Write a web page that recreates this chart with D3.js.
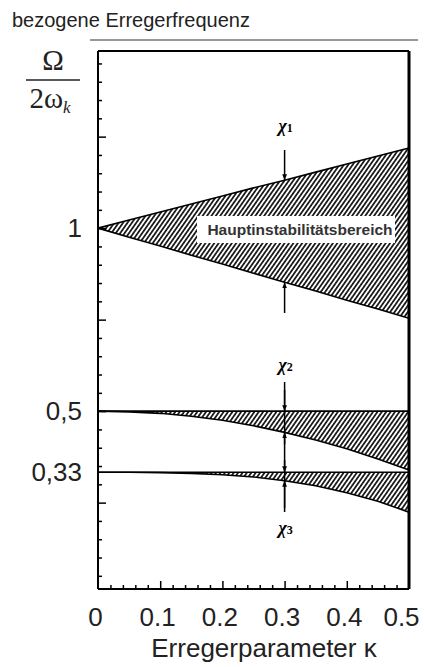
<!DOCTYPE html>
<html>
<head>
<meta charset="utf-8">
<script src="https://cdn.jsdelivr.net/npm/d3@7"></script>
<style>
  html, body { margin: 0; padding: 0; background: #fff; }
  svg { display: block; }
</style>
</head>
<body>
<script>
// ---------- data ----------
const kappa        = [0, 0.05, 0.1, 0.15, 0.2, 0.25, 0.3, 0.35, 0.4, 0.45, 0.5];
const mainUpper    = [1.000, 1.022, 1.044, 1.066, 1.088, 1.110, 1.131, 1.153, 1.175, 1.197, 1.219];
const mainLower    = [1.000, 0.975, 0.951, 0.926, 0.902, 0.877, 0.852, 0.828, 0.803, 0.779, 0.754];
const secondUpper  = [0.500, 0.500, 0.500, 0.500, 0.500, 0.500, 0.500, 0.500, 0.500, 0.500, 0.500];
const secondLower  = [0.500, 0.498, 0.494, 0.486, 0.475, 0.460, 0.442, 0.421, 0.397, 0.369, 0.339];
const thirdUpper   = [0.333, 0.333, 0.333, 0.333, 0.333, 0.333, 0.333, 0.333, 0.333, 0.333, 0.333];
const thirdLower   = [0.333, 0.333, 0.332, 0.330, 0.326, 0.320, 0.310, 0.296, 0.277, 0.254, 0.224];

const xTickValues  = [0, 0.1, 0.2, 0.3, 0.4, 0.5];
const xTickLabels  = ["0", "0.1", "0.2", "0.3", "0.4", "0.5"];
const yTickValues  = [1, 0.5, 0.333];
const yTickLabels  = ["1", "0,5", "0,33"];
const markKappa    = 0.3;
const chiLabels    = ["1", "2", "3"];

const xDomain = [0, 0.5];
const yDomain = [0.014, 1.484];

// ---------- layout ----------
const W = 424, H = 667;
const pL = 98, pR = 409, pT = 51, pB = 589;

const svg = d3.select("body").append("svg").attr("width", W).attr("height", H);

const x = d3.scaleLinear().domain(xDomain).range([pL, pR]);
const y = d3.scaleLinear().domain(yDomain).range([pB, pT]);

// hatch pattern
const defs = svg.append("defs");
defs.append("pattern")
  .attr("id", "hatch")
  .attr("patternUnits", "userSpaceOnUse")
  .attr("width", 3.6).attr("height", 10)
  .attr("patternTransform", "rotate(35)")
  .append("line")
  .attr("x1", 1.8).attr("y1", -1).attr("x2", 1.8).attr("y2", 11)
  .attr("stroke", "#000").attr("stroke-width", 1.6);

defs.append("marker")
  .attr("id", "arrow")
  .attr("viewBox", "0 0 10 10")
  .attr("refX", 10).attr("refY", 5)
  .attr("markerWidth", 6).attr("markerHeight", 6)
  .attr("markerUnits", "userSpaceOnUse")
  .attr("orient", "auto")
  .append("path").attr("d", "M0,1 L10,5 L0,9 Z").attr("fill", "#000");

// title & header rule
svg.append("text")
  .attr("x", 12).attr("y", 27)
  .attr("font-family", "Liberation Sans, Arial, sans-serif")
  .attr("font-size", 20).attr("fill", "#222")
  .text("bezogene Erregerfrequenz");
svg.append("line")
  .attr("x1", 90).attr("x2", 418).attr("y1", 40).attr("y2", 40)
  .attr("stroke", "#333").attr("stroke-width", 1.2);

// y label fraction
const frac = svg.append("g").attr("font-family", "Liberation Serif, Times New Roman, serif").attr("fill", "#222");
frac.append("text").attr("x", 53).attr("y", 70).attr("text-anchor", "middle").attr("font-size", 29).text("Ω");
frac.append("line").attr("x1", 26).attr("x2", 80).attr("y1", 80).attr("y2", 80).attr("stroke", "#222").attr("stroke-width", 1.5);
const den = frac.append("text").attr("x", 50).attr("y", 108).attr("text-anchor", "middle").attr("font-size", 29);
den.append("tspan").text("2ω");
den.append("tspan").attr("font-size", 17).attr("font-style", "italic").attr("dy", 5).text("k");

// areas
const pts = (lo, hi) => kappa.map((k, i) => ({ k, lo: lo[i], hi: hi[i] }));
const area = d3.area().x(d => x(d.k)).y0(d => y(d.lo)).y1(d => y(d.hi));
const line = d3.line().x(d => x(d.k)).y(d => y(d.v));

const regions = [
  pts(mainLower, mainUpper),
  pts(secondLower, secondUpper),
  pts(thirdLower, thirdUpper)
];
regions.forEach(r => {
  svg.append("path").datum(r).attr("d", area).attr("fill", "url(#hatch)").attr("stroke", "none");
  svg.append("path").datum(r.map(d => ({ k: d.k, v: d.lo }))).attr("d", line)
    .attr("fill", "none").attr("stroke", "#000").attr("stroke-width", 1.6);
  svg.append("path").datum(r.map(d => ({ k: d.k, v: d.hi }))).attr("d", line)
    .attr("fill", "none").attr("stroke", "#000").attr("stroke-width", 1.6);
});

// label box
svg.append("rect").attr("x", 197).attr("y", 216).attr("width", 198).attr("height", 27).attr("fill", "#fff");
svg.append("text")
  .attr("x", 300).attr("y", 235).attr("text-anchor", "middle")
  .attr("font-family", "Liberation Sans, Arial, sans-serif")
  .attr("font-weight", "bold").attr("font-size", 15.5).attr("fill", "#333")
  .text("Hauptinstabilitätsbereich");

// frame
const frame = svg.append("g").attr("stroke", "#000").attr("fill", "none");
frame.append("line").attr("x1", pL).attr("x2", pL).attr("y1", pT).attr("y2", pB).attr("stroke-width", 2);
frame.append("line").attr("x1", pL).attr("x2", pR).attr("y1", pT).attr("y2", pT).attr("stroke-width", 2);
frame.append("line").attr("x1", pR).attr("x2", pR).attr("y1", pT).attr("y2", pB).attr("stroke-width", 3);
frame.append("line").attr("x1", pL).attr("x2", pR).attr("y1", pB).attr("y2", pB).attr("stroke-width", 2);

// inward ticks
const xMinor = d3.range(0.02, 0.5, 0.02).filter(v => Math.abs(v * 10 - Math.round(v * 10)) > 1e-6);
const xMajor = [0.1, 0.2, 0.3, 0.4];
svg.append("g").attr("transform", `translate(0,${pB})`)
  .call(d3.axisTop(x).tickValues(xMinor).tickSize(4).tickFormat(""))
  .call(g => g.select(".domain").remove())
  .call(g => g.selectAll("line").attr("stroke-width", 1.5));
svg.append("g").attr("transform", `translate(0,${pB})`)
  .call(d3.axisTop(x).tickValues(xMajor).tickSize(8).tickFormat(""))
  .call(g => g.select(".domain").remove())
  .call(g => g.selectAll("line").attr("stroke-width", 1.5));

const yMinor = d3.range(0.05, 1.5, 0.05).filter(v => Math.abs(v * 4 - Math.round(v * 4)) > 1e-6);
const yMajor = [0.25, 0.5, 0.75, 1.0, 1.25];
svg.append("g").attr("transform", `translate(${pL},0)`)
  .call(d3.axisRight(y).tickValues(yMinor).tickSize(4).tickFormat(""))
  .call(g => g.select(".domain").remove())
  .call(g => g.selectAll("line").attr("stroke-width", 1.5));
svg.append("g").attr("transform", `translate(${pL},0)`)
  .call(d3.axisRight(y).tickValues(yMajor).tickSize(8).tickFormat(""))
  .call(g => g.select(".domain").remove())
  .call(g => g.selectAll("line").attr("stroke-width", 1.5));

// tick labels (outside)
svg.append("g").attr("transform", `translate(-3,${pB})`)
  .call(d3.axisBottom(x).tickValues(xTickValues).tickSize(0).tickPadding(19)
    .tickFormat((d, i) => xTickLabels[i]))
  .call(g => g.select(".domain").remove())
  .call(g => g.selectAll("text").attr("font-family", "Liberation Sans, Arial, sans-serif")
    .attr("font-size", 26).attr("fill", "#222"))
  .call(g => g.selectAll("text").filter((d, i, n) => i === n.length - 1).attr("dx", -5));

svg.append("g").attr("transform", `translate(${pL},0)`)
  .call(d3.axisLeft(y).tickValues(yTickValues).tickSize(0).tickPadding(16)
    .tickFormat((d, i) => yTickLabels[i]))
  .call(g => g.select(".domain").remove())
  .call(g => g.selectAll("text").attr("font-family", "Liberation Sans, Arial, sans-serif")
    .attr("font-size", 26).attr("fill", "#222"));

svg.append("text")
  .attr("x", 264).attr("y", 657).attr("text-anchor", "middle")
  .attr("font-family", "Liberation Sans, Arial, sans-serif")
  .attr("font-size", 26).attr("fill", "#222")
  .text("Erregerparameter κ");

// χ markers
const mx = x(markKappa);
const iK = kappa.indexOf(markKappa);
const arrows = svg.append("g").attr("stroke", "#000").attr("stroke-width", 1.5).attr("fill", "none");
arrows.append("line").attr("x1", mx).attr("x2", mx).attr("y1", 150).attr("y2", y(mainUpper[iK])).attr("marker-end", "url(#arrow)");
arrows.append("line").attr("x1", mx).attr("x2", mx).attr("y1", 313).attr("y2", y(mainLower[iK])).attr("marker-end", "url(#arrow)");
arrows.append("line").attr("x1", mx).attr("x2", mx).attr("y1", 382).attr("y2", 512);
arrows.append("line").attr("x1", mx).attr("x2", mx).attr("y1", 390).attr("y2", y(secondUpper[iK])).attr("marker-end", "url(#arrow)");
arrows.append("line").attr("x1", mx).attr("x2", mx).attr("y1", y(secondLower[iK]) + 12).attr("y2", y(secondLower[iK])).attr("marker-end", "url(#arrow)");
arrows.append("line").attr("x1", mx).attr("x2", mx).attr("y1", y(thirdUpper[iK]) - 12).attr("y2", y(thirdUpper[iK])).attr("marker-end", "url(#arrow)");
arrows.append("line").attr("x1", mx).attr("x2", mx).attr("y1", 508).attr("y2", y(thirdLower[iK])).attr("marker-end", "url(#arrow)");

const chiY = [132, 371, 534];
chiLabels.forEach((s, i) => {
  const t = svg.append("text").attr("x", mx + 1).attr("y", chiY[i]).attr("text-anchor", "middle")
    .attr("font-family", "Liberation Serif, Times New Roman, serif")
    .attr("font-weight", "bold").attr("font-style", "italic").attr("font-size", 18).attr("fill", "#000");
  t.append("tspan").text("χ");
  t.append("tspan").attr("font-size", 12).attr("font-style", "normal").text(s);
});
</script>
</body>
</html>
